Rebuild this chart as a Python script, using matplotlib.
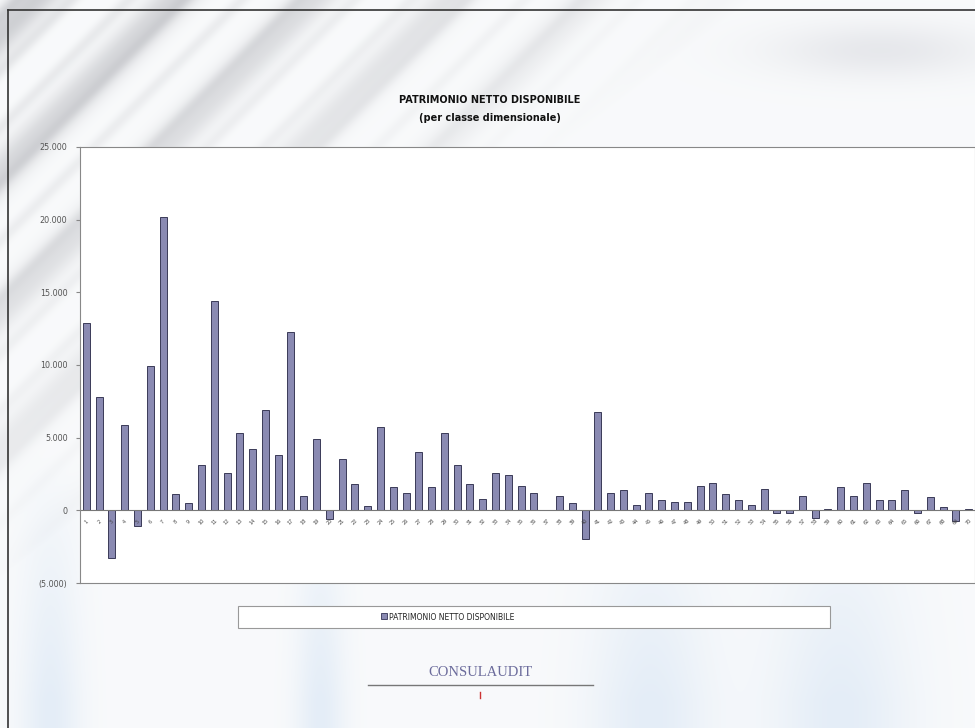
import numpy as np
import matplotlib.pyplot as plt
from matplotlib.patches import Rectangle

# patrimonio netto disponibile per classe dimensionale (migliaia)
classi = [str(i) for i in range(1, 71)]
patrimonio = [12900, 7800, -3300, 5900, -1100, 9900, 20200, 1100, 500, 3100,
              14400, 2600, 5300, 4200, 6900, 3800, 12300, 1000, 4900, -600,
              3500, 1800, 300, 5700, 1600, 1200, 4000, 1600, 5300, 3100,
              1800, 800, 2600, 2400, 1700, 1200, 50, 1000, 500, -2000,
              6800, 1200, 1400, 400, 1200, 700, 600, 600, 1700, 1900,
              1100, 700, 400, 1500, -200, -200, 1000, -500, 100, 1600,
              1000, 1900, 700, 700, 1400, -200, 900, 200, -700, 100]
yticks = [-5000, 0, 5000, 10000, 15000, 20000, 25000]
ylabels = ['(5.000)', '0', '5.000', '10.000', '15.000', '20.000', '25.000']

W, H = 975, 728
fig = plt.figure(figsize=(W / 100, H / 100), dpi=100)

# sfondo: venature grigie diagonali in alto a sinistra, colonne azzurrine in basso
bg = fig.add_axes([0, 0, 1, 1])
yy, xx = np.mgrid[0:H, 0:W]
img = np.ones((H, W, 3)) * np.array([0.975, 0.98, 0.985])
d = xx + yy
streak = (0.5 + 0.5 * np.sin(d / 22.0)) ** 3 + 0.4 * (0.5 + 0.5 * np.sin(d / 9.0)) ** 4
fade = np.clip(1 - (xx + 1.3 * yy) / 750, 0, 1) ** 0.7
img -= (streak * fade)[..., None] * np.array([0.17, 0.17, 0.16])
cols = np.zeros((H, W))
for cx, w in [(50, 30), (320, 25), (650, 60), (840, 70)]:
    cols += np.exp(-((xx - cx) / w) ** 2) * np.clip((yy - 450) / 250, 0, 1)
img -= cols[..., None] * np.array([0.08, 0.05, 0.015])
cap = np.exp(-((xx - 880) / 110) ** 2) * np.exp(-((yy - 50) / 28) ** 2)
img -= cap[..., None] * np.array([0.07, 0.07, 0.06])
bg.imshow(np.clip(img, 0, 1), extent=[0, W, H, 0], aspect='auto')
bg.set_xlim(0, W)
bg.set_ylim(H, 0)
bg.axis('off')
bg.plot([8, 8], [10, H], color='#333333', lw=1.2)
bg.plot([8, W], [10, 10], color='#333333', lw=1.2)

# titolo
bg.text(490, 100, 'PATRIMONIO NETTO DISPONIBILE', ha='center', va='center',
        fontsize=7, fontweight='bold', color='#111111')
bg.text(490, 118, '(per classe dimensionale)', ha='center', va='center',
        fontsize=7, fontweight='bold', color='#111111')

# legenda
bg.add_patch(Rectangle((238, 606), 592, 22, facecolor='white', edgecolor='#999999', lw=0.8))
bg.add_patch(Rectangle((381, 613), 6, 6, facecolor='#8a8ab2', edgecolor='#333355', lw=0.6))
bg.text(389, 617, 'PATRIMONIO NETTO DISPONIBILE', ha='left', va='center',
        fontsize=5.5, color='#222222')

# marchio
bg.text(480, 672, 'CONSULAUDIT', ha='center', va='center', fontsize=10.5,
        family='Liberation Serif', color='#6c6c9c')
bg.plot([368, 593], [685, 685], color='#777777', lw=1)
bg.plot([480, 480], [692, 698], color='#cc3333', lw=1)

# grafico a barre
ax = fig.add_axes([80 / W, 1 - 583 / H, 895 / W, (583 - 147) / H])
ax.set_facecolor('white')
x = np.arange(len(patrimonio))
ax.bar(x, patrimonio, width=0.55, color='#8a8ab2', edgecolor='#3a3a58', linewidth=0.7)
ax.axhline(0, color='#777777', lw=0.8)
ax.set_xlim(-0.5, len(patrimonio) - 0.5)
ax.set_ylim(-5000, 25000)
ax.set_yticks(yticks)
ax.set_yticklabels(ylabels, fontsize=5.8, color='#555555')
ax.tick_params(axis='y', length=3, color='#888888', pad=6)
ax.set_xticks([])
for i, lab in enumerate(classi):
    ax.annotate(lab, (i, 0), xytext=(0, -8), textcoords='offset points',
                ha='center', va='center', fontsize=3.5, rotation=45, color='#444444')
for s in ax.spines.values():
    s.set_color('#888888')
    s.set_linewidth(0.8)

fig.savefig('out.png', dpi=100)
